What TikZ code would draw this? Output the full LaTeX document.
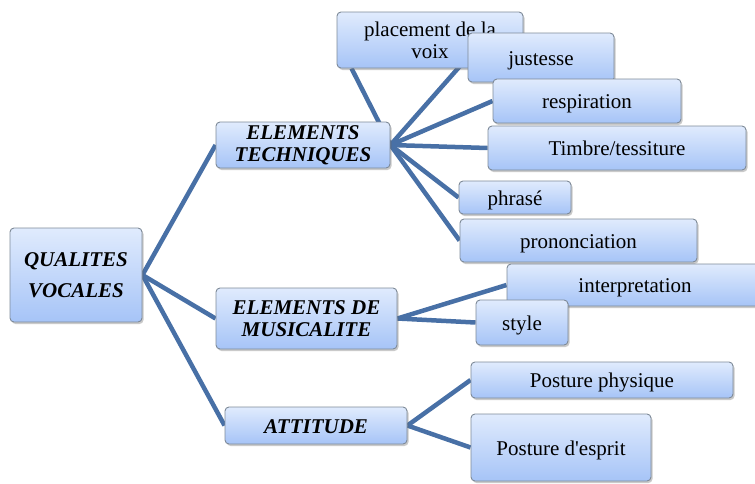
\documentclass[tikz,border=0pt]{standalone}
\usepackage{fontspec}
\setmainfont{Liberation Serif}
\usetikzlibrary{shadows,backgrounds}
\definecolor{boxtop}{HTML}{E0EBFD}
\definecolor{boxbot}{HTML}{A6C4F7}
\definecolor{boxline}{HTML}{7E8A98}
\definecolor{linkcol}{HTML}{4870A6}
\tikzset{
  box/.style={draw=boxline, line width=0.9pt, rounded corners=4pt,
    top color=boxtop, bottom color=boxbot, inner sep=0pt, align=center,
    font=\fontsize{21}{22}\selectfont,
    drop shadow={shadow xshift=1.5pt, shadow yshift=-2pt, opacity=0.35, fill=black!60}},
  onebox/.style={box, text height=20pt, text depth=5pt},
  mainbox/.style={box, font=\fontsize{21}{22}\selectfont\bfseries\itshape},
  link/.style={draw=linkcol, line width=4.5pt}
}
\begin{document}
\begin{tikzpicture}[x=1pt,y=-1pt]
\useasboundingbox (0,0) rectangle (755,483);
% main nodes
\node[mainbox, minimum width=132pt, minimum height=94pt, font=\fontsize{21}{31}\selectfont\bfseries\itshape] (Q) at (76,275) {QUALITES\\ VOCALES};
\node[mainbox, minimum width=174pt, minimum height=46pt] (T) at (303,145) {ELEMENTS\\TECHNIQUES};
\node[mainbox, minimum width=181pt, minimum height=61pt] (M) at (306.5,318.5) {ELEMENTS DE\\MUSICALITE};
\node[mainbox, minimum width=182pt, minimum height=37pt, text height=20pt, text depth=5pt] (A) at (316,425.5) {ATTITUDE};
% technique children
\node[box, minimum width=186pt, minimum height=56pt] (P) at (430,40) {placement de la\\voix};
\node[onebox, minimum width=146pt, minimum height=49pt] (J) at (541,57.5) {justesse};
\node[onebox, minimum width=188pt, minimum height=44pt] (R) at (587,101) {respiration};
\node[onebox, minimum width=258pt, minimum height=44pt] (Ti) at (617,148) {Timbre/tessiture};
\node[onebox, minimum width=112pt, minimum height=33pt] (Ph) at (515,197.5) {phrasé};
\node[onebox, minimum width=237pt, minimum height=43pt] (Pr) at (578.5,240.5) {prononciation};
% musicalite children
\node[onebox, minimum width=256pt, minimum height=42pt, text width=256pt] (I) at (635,285) {interpretation};
\node[onebox, minimum width=92pt, minimum height=45pt] (S) at (522,322.5) {style};
% attitude children
\node[onebox, minimum width=262pt, minimum height=36pt] (PP) at (602,380) {Posture physique};
\node[onebox, minimum width=180pt, minimum height=67pt] (PE) at (561,447.5) {Posture d\textquotesingle esprit};
% connectors
\begin{scope}[on background layer]
\draw[link] (Q.east) -- (T.west);
\draw[link] (Q.east) -- (M.west);
\draw[link] (Q.east) -- (A.west);
\draw[link] (T.east) -- ([xshift=15pt]P.south west);
\draw[link] (T.east) -- (J.west);
\draw[link] (T.east) -- (R.west);
\draw[link] (T.east) -- (Ti.west);
\draw[link] (T.east) -- (Ph.west);
\draw[link] (T.east) -- (Pr.west);
\draw[link] (M.east) -- (I.west);
\draw[link] (M.east) -- (S.west);
\draw[link] (A.east) -- (PP.west);
\draw[link] (A.east) -- (PE.west);
\end{scope}
\end{tikzpicture}
\end{document}
